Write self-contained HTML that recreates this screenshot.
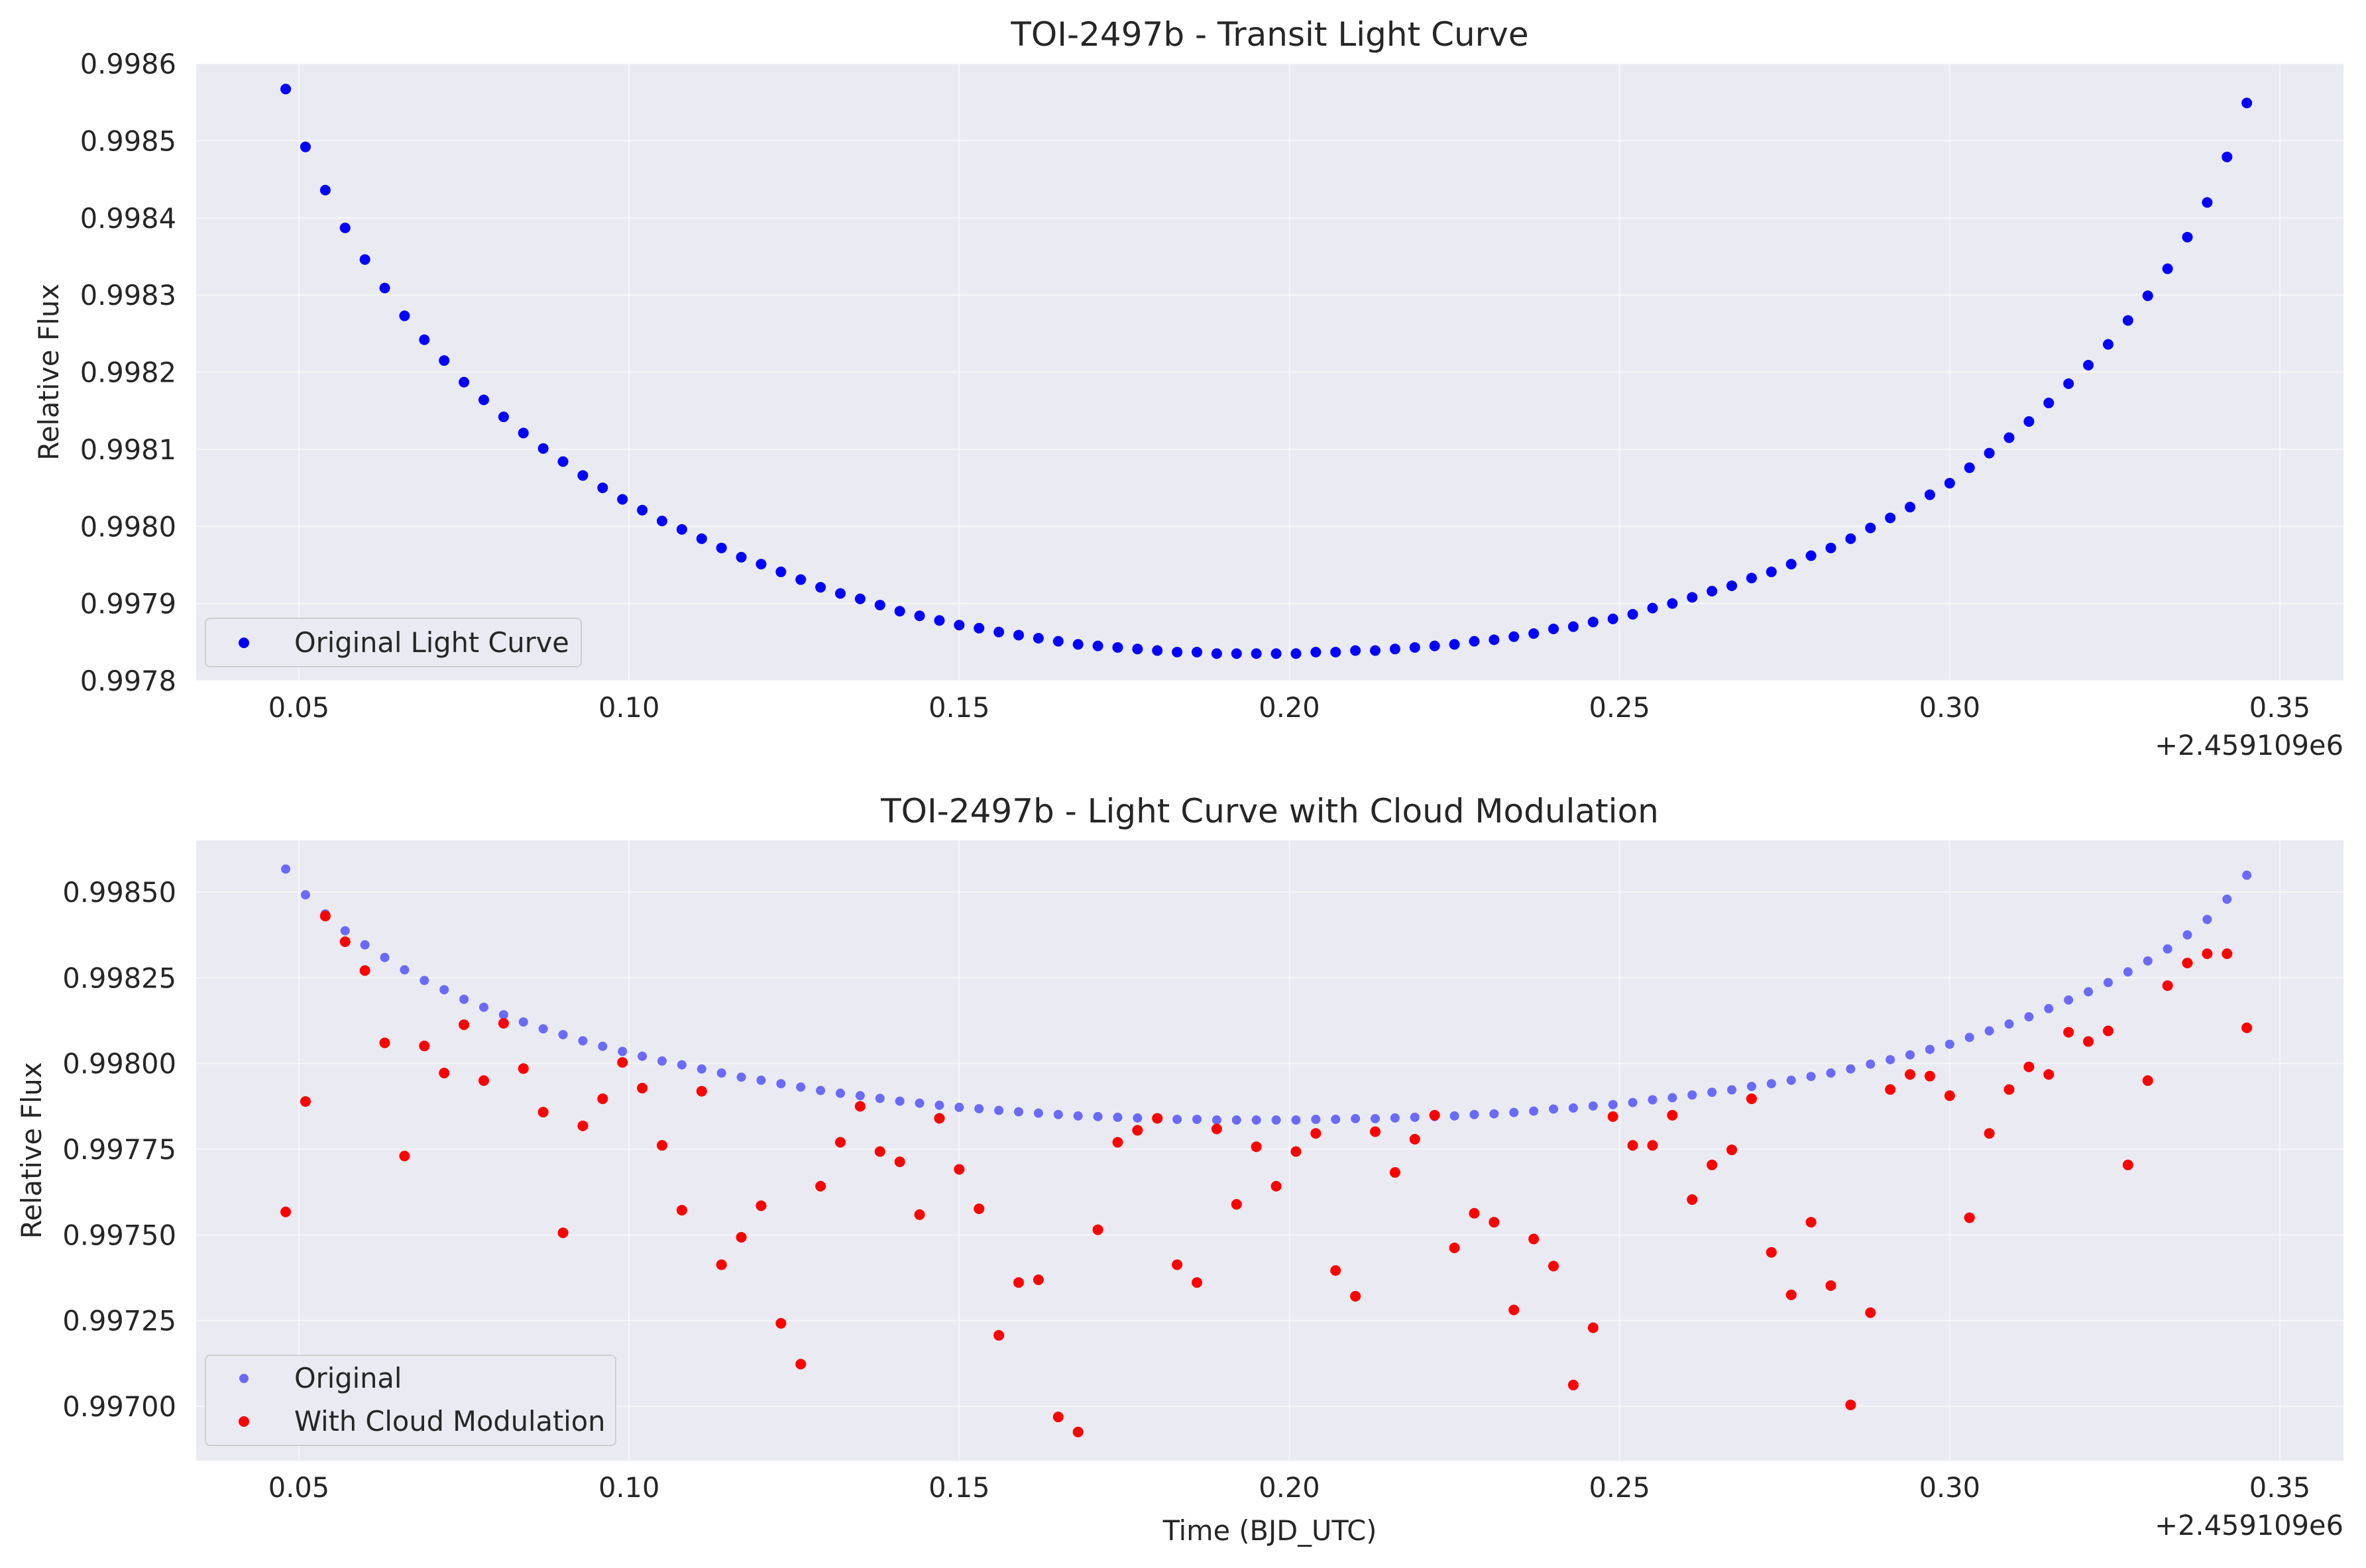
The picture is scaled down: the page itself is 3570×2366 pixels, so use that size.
<!DOCTYPE html>
<html><head><meta charset="utf-8"><style>
html,body{margin:0;padding:0;background:#fff;}
svg{display:block;font-family:"DejaVu Sans","Liberation Sans",sans-serif;}
</style></head><body>
<svg id="chart" width="3570" height="2366" viewBox="0 0 3570 2366" xmlns="http://www.w3.org/2000/svg"></svg>
<script>
const times = [];
for (let i = 0; i < 100; i++) times.push(0.048 + i * 0.003);
const originalFlux = [0.998567,0.998492,0.998436,0.998387,0.998346,0.998309,0.998273,0.998242,0.998215,0.998187,
0.998164,0.998142,0.998121,0.998101,0.998084,0.998066,0.998050,0.998035,0.998021,0.998007,
0.997996,0.997984,0.997972,0.997960,0.997951,0.997941,0.997931,0.997921,0.997913,0.997906,
0.997898,0.997890,0.997884,0.997878,0.997872,0.997868,0.997863,0.997859,0.997855,0.997851,
0.997847,0.997845,0.997843,0.997841,0.997839,0.997837,0.997837,0.997835,0.997835,0.997835,
0.997835,0.997835,0.997837,0.997837,0.997839,0.997839,0.997841,0.997843,0.997845,0.997847,
0.997851,0.997853,0.997857,0.997861,0.997867,0.997870,0.997876,0.997880,0.997886,0.997894,
0.997900,0.997908,0.997916,0.997923,0.997933,0.997941,0.997951,0.997962,0.997972,0.997984,
0.997998,0.998011,0.998025,0.998041,0.998056,0.998076,0.998095,0.998115,0.998136,0.998160,
0.998185,0.998209,0.998236,0.998267,0.998299,0.998334,0.998375,0.998420,0.998479,0.998549];
const cloudFlux = [0.997567,0.997889,0.998430,0.998355,0.998271,0.998060,0.997730,0.998051,0.997972,0.998113,
0.997950,0.998117,0.997985,0.997858,0.997506,0.997818,0.997897,0.998003,0.997928,0.997761,
0.997572,0.997919,0.997413,0.997493,0.997585,0.997242,0.997123,0.997642,0.997770,0.997875,
0.997743,0.997713,0.997559,0.997840,0.997691,0.997576,0.997207,0.997361,0.997369,0.996969,
0.996925,0.997515,0.997770,0.997805,0.997840,0.997413,0.997361,0.997809,0.997589,0.997757,
0.997642,0.997743,0.997796,0.997396,0.997321,0.997801,0.997682,0.997779,0.997849,0.997462,
0.997563,0.997537,0.997281,0.997488,0.997409,0.997062,0.997229,0.997845,0.997761,0.997761,
0.997849,0.997603,0.997704,0.997748,0.997897,0.997449,0.997325,0.997537,0.997352,0.997004,
0.997273,0.997924,0.997968,0.997963,0.997906,0.997550,0.997796,0.997924,0.997990,0.997968,
0.998091,0.998064,0.998095,0.997704,0.997950,0.998227,0.998293,0.998320,0.998320,0.998104];
const xTicks = [0.05,0.10,0.15,0.20,0.25,0.30,0.35];
const xTickLabels = ["0.05","0.10","0.15","0.20","0.25","0.30","0.35"];
const topYTicks = [0.9978,0.9979,0.9980,0.9981,0.9982,0.9983,0.9984,0.9985,0.9986];
const topYTickLabels = ["0.9978","0.9979","0.9980","0.9981","0.9982","0.9983","0.9984","0.9985","0.9986"];
const botYTicks = [0.99700,0.99725,0.99750,0.99775,0.99800,0.99825,0.99850];
const botYTickLabels = ["0.99700","0.99725","0.99750","0.99775","0.99800","0.99825","0.99850"];

const NS = "http://www.w3.org/2000/svg";
const svg = document.getElementById('chart');
function mk(tag, attrs, parent, text){
  const e = document.createElementNS(NS, tag);
  for (const k in attrs) e.setAttribute(k, attrs[k]);
  if (text !== undefined) e.textContent = text;
  (parent || svg).appendChild(e);
  return e;
}
const AX_L = 296, AX_R = 3536;
const TF = 41.5;
function xScale(v){ return 451 + (v - 0.05) * (3440 - 451) / 0.30; }
function topY(v){ return 96 + (0.9986 - v) * (1027 - 96) / 0.0008; }
function botY(v){ return 1346 + (0.9985 - v) * (2122 - 1346) / 0.0015; }

function panel(name, top, bottom, yScale, yTicks, yLabels, title, ylab, ylabX){
  const g = mk('g', {});
  
  
  const bg = mk('rect', {x:AX_L, y:top, width:AX_R-AX_L, height:bottom-top, fill:'#eaeaf2'}, g);
  
  
  xTicks.forEach((t, i) => {
    const x = xScale(t);
    const gl = mk('line', {x1:x, x2:x, y1:top, y2:bottom, stroke:'#ffffff', 'stroke-width':2, opacity:0.6}, g);
    
    
    const tl = mk('text', {x:x, y:bottom+55, 'text-anchor':'middle', 'font-size':TF, fill:'#262626'}, g, xTickLabels[i]);
    
    
  });
  yTicks.forEach((t, i) => {
    const y = yScale(t);
    const gl = mk('line', {x1:AX_L, x2:AX_R, y1:y, y2:y, stroke:'#ffffff', 'stroke-width':2, opacity:0.6}, g);
    
    
    const tl = mk('text', {x:266, y:y+15, 'text-anchor':'end', 'font-size':TF, fill:'#262626'}, g, yLabels[i]);
    
    
  });
  const off = mk('text', {x:AX_R, y:bottom+112, 'text-anchor':'end', 'font-size':TF, fill:'#262626'}, g, '+2.459109e6');
  
  
  const tt = mk('text', {x:(AX_L+AX_R)/2, y:top-27, 'text-anchor':'middle', 'font-size':50, fill:'#262626'}, g, title);
  
  
  const cy = (top+bottom)/2;
  const yl = mk('text', {x:ylabX, y:cy, 'text-anchor':'middle', 'font-size':TF, fill:'#262626', transform:`rotate(-90 ${ylabX} ${cy})`}, g, ylab);
  
  
  return g;
}

const p1 = panel('top-panel', 96, 1027, topY, topYTicks, topYTickLabels, 'TOI-2497b - Transit Light Curve', 'Relative Flux', 88);
times.forEach((t, i) => {
  const c = mk('circle', {cx:xScale(t), cy:topY(originalFlux[i]), r:8, fill:'#0000ff'}, p1);
  
  
});
const lg1 = mk('g', {}, p1);


mk('rect', {x:310, y:933, width:567, height:73, rx:7, fill:'#eaeaf2', stroke:'#cccccc', 'stroke-width':2, opacity:0.9}, lg1);
mk('circle', {cx:368, cy:970, r:8, fill:'#0000ff'}, lg1);
const le1 = mk('text', {x:444, y:984, 'font-size':TF, fill:'#262626'}, lg1, 'Original Light Curve');



const p2 = panel('bottom-panel', 1268, 2204, botY, botYTicks, botYTickLabels, 'TOI-2497b - Light Curve with Cloud Modulation', 'Relative Flux', 62);
times.forEach((t, i) => {
  const c = mk('circle', {cx:xScale(t), cy:botY(originalFlux[i]), r:7, fill:'#0000ff', opacity:0.55}, p2);
  
  
});
times.forEach((t, i) => {
  const c = mk('circle', {cx:xScale(t), cy:botY(cloudFlux[i]), r:8, fill:'#ff0000'}, p2);
  
  
});
const xl = mk('text', {x:(AX_L+AX_R)/2, y:2324, 'text-anchor':'middle', 'font-size':TF, fill:'#262626'}, p2, 'Time (BJD_UTC)');


const lg2 = mk('g', {}, p2);


mk('rect', {x:310, y:2045, width:619, height:136, rx:7, fill:'#eaeaf2', stroke:'#cccccc', 'stroke-width':2, opacity:0.9}, lg2);
mk('circle', {cx:368, cy:2080, r:7, fill:'#0000ff', opacity:0.55}, lg2);
const le2 = mk('text', {x:444, y:2094, 'font-size':TF, fill:'#262626'}, lg2, 'Original');


mk('circle', {cx:368, cy:2145, r:8, fill:'#ff0000'}, lg2);
const le3 = mk('text', {x:444, y:2159, 'font-size':TF, fill:'#262626'}, lg2, 'With Cloud Modulation');


</script>
</body></html>
